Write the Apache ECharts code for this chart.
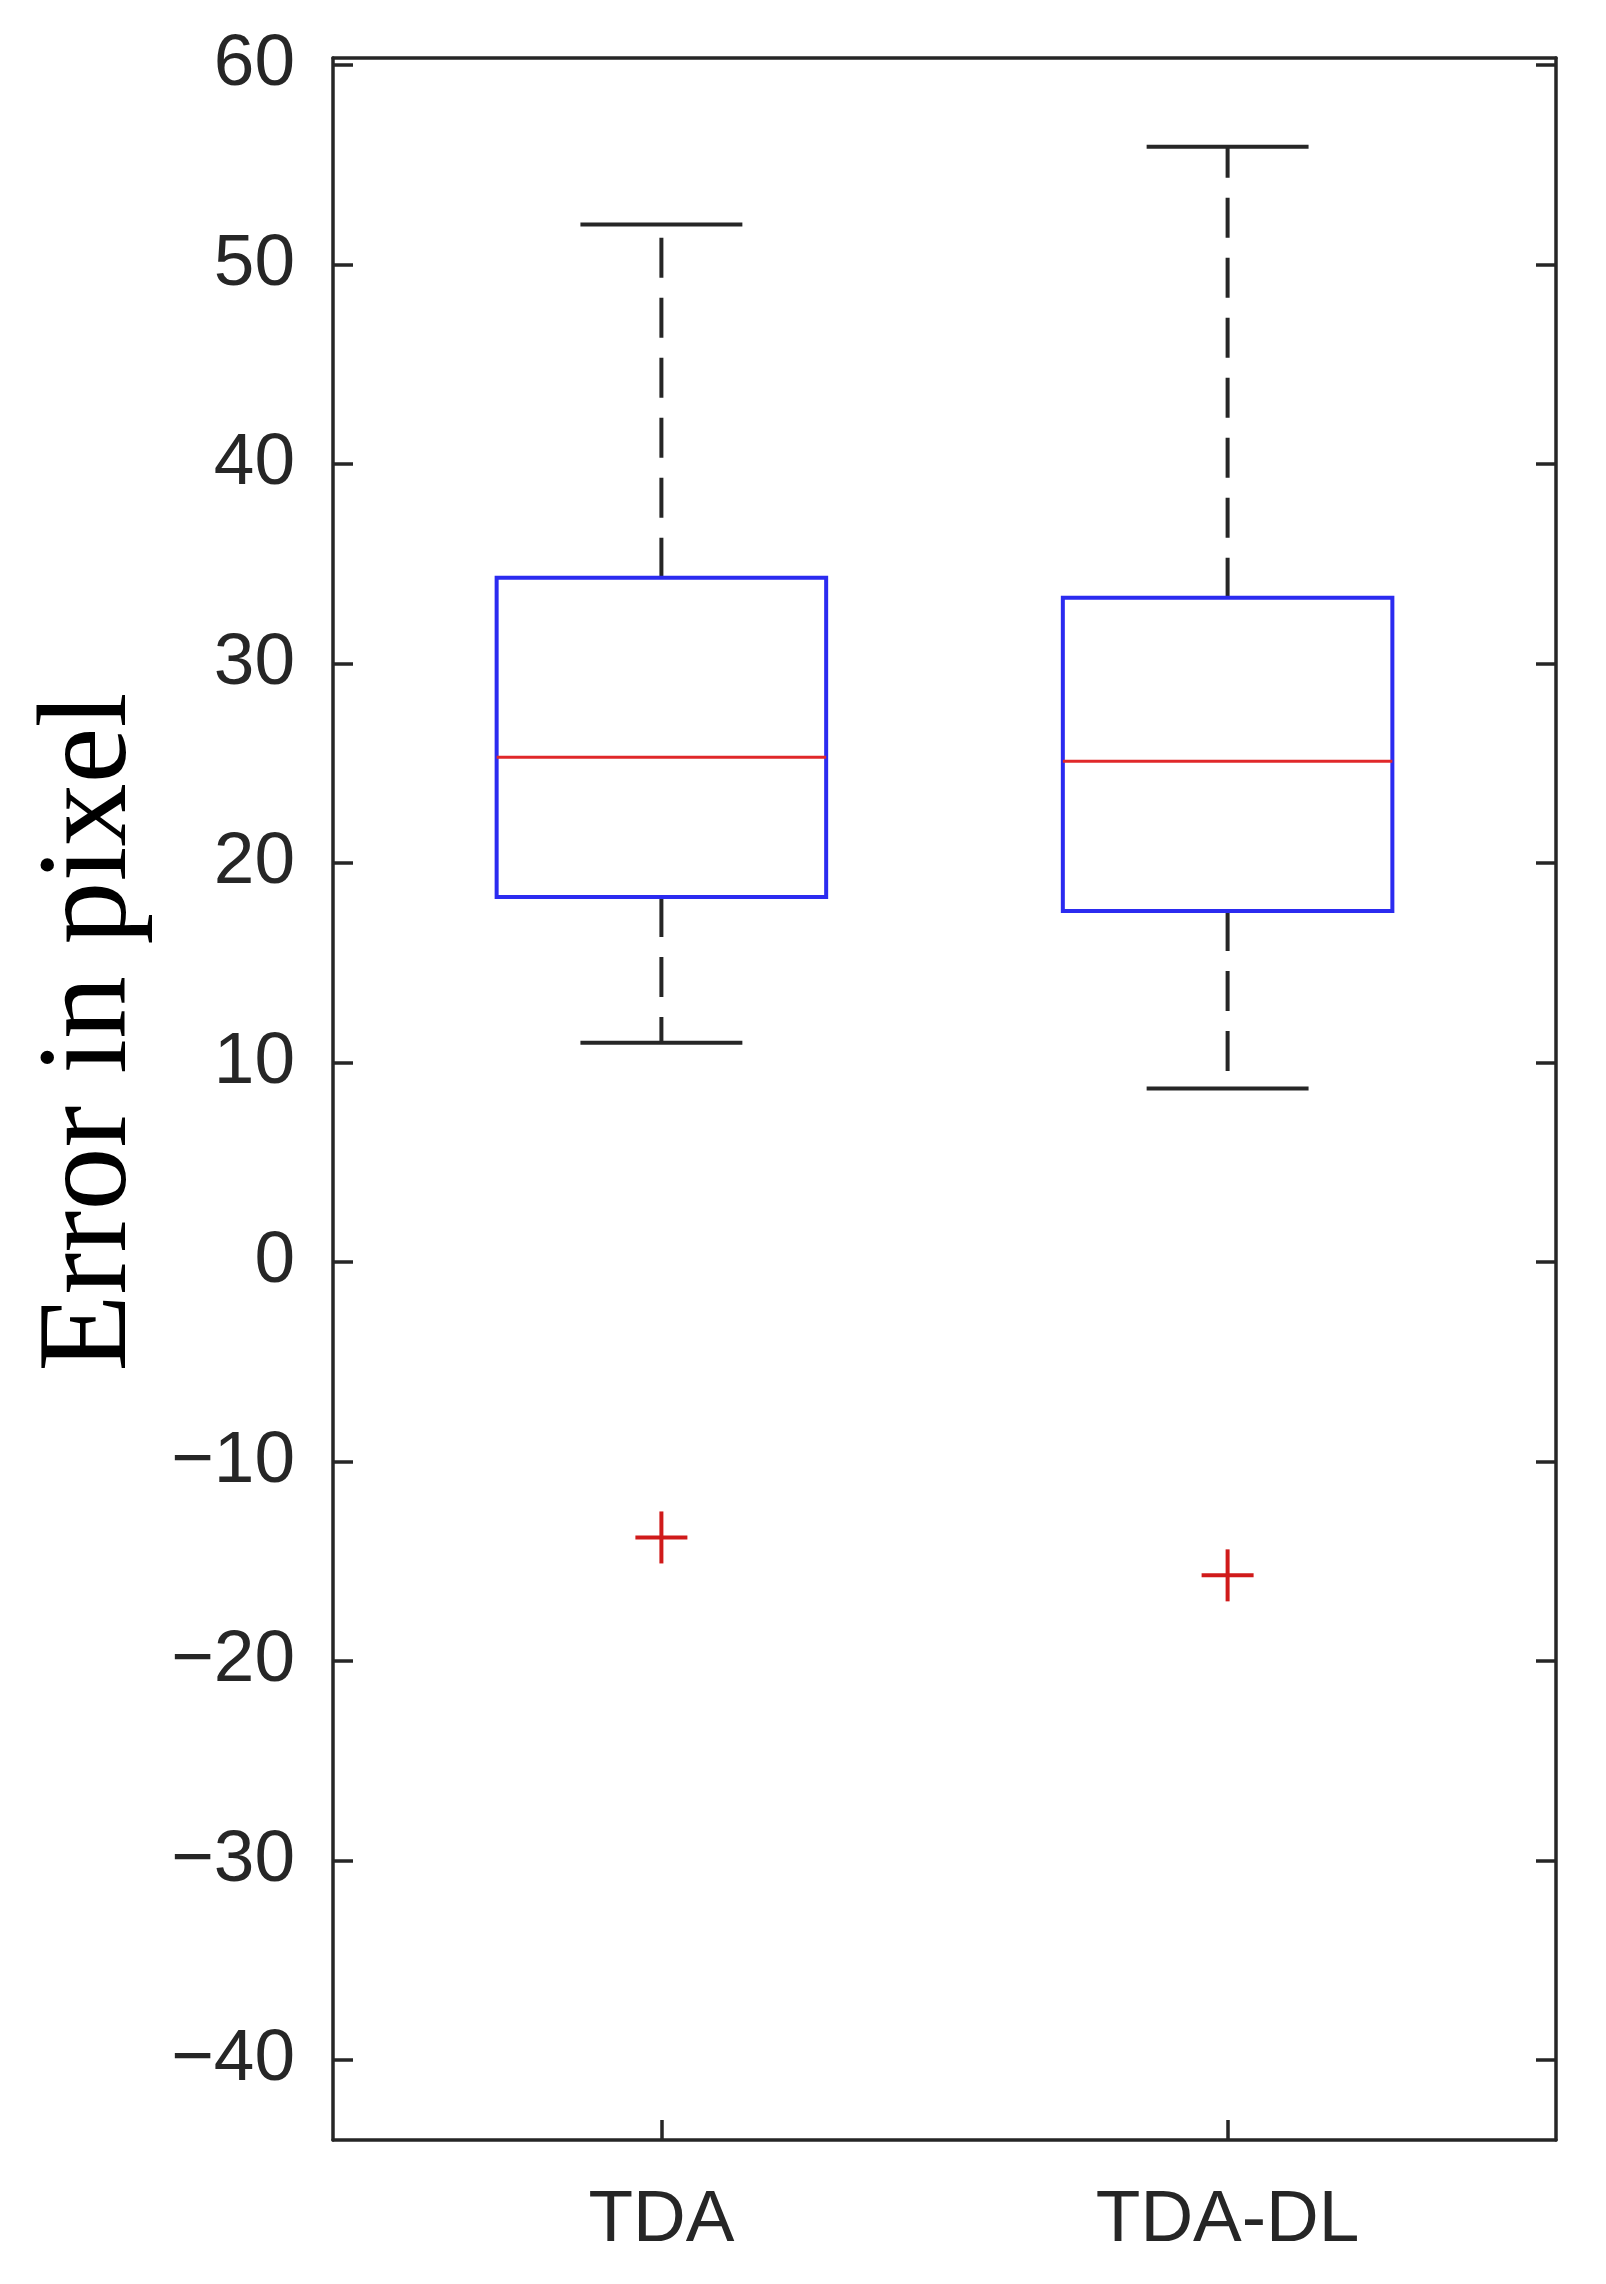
<!DOCTYPE html>
<html>
<head>
<meta charset="utf-8">
<script src="https://cdn.jsdelivr.net/npm/echarts@6/dist/echarts.min.js"></script>
<style>html,body{margin:0;background:#fff}#chart{width:1606px;height:2284px}</style>
</head>
<body>
<div id="chart"></div>
<script>
const categories = ['TDA', 'TDA-DL'];
const positions = [1, 2];
// [low whisker, Q1, median, Q3, high whisker]
const boxStats = [
  [11, 18.3, 25.3, 34.3, 52],
  [8.7, 17.6, 25.1, 33.3, 55.9]
];
const outliers = [[1, -13.8], [2, -15.7]];
const yTicks = [-40, -30, -20, -10, 0, 10, 20, 30, 40, 50, 60];

const chart = echarts.init(document.getElementById('chart'));

const boxHalf = 0.291; // half box width in x units
const capHalf = 0.143;

function renderBox(params, api) {
  const x = api.value(0);
  const lo = api.coord([x, api.value(1)]);
  const q1 = api.coord([x, api.value(2)]);
  const med = api.coord([x, api.value(3)]);
  const q3 = api.coord([x, api.value(4)]);
  const hi = api.coord([x, api.value(5)]);
  const xl = api.coord([x - boxHalf, 0])[0];
  const xr = api.coord([x + boxHalf, 0])[0];
  const cl = api.coord([x - capHalf, 0])[0];
  const cr = api.coord([x + capHalf, 0])[0];
  const cx = lo[0];
  const black = { stroke: '#262626', lineWidth: 4 };
  const dashed = { stroke: '#262626', lineWidth: 4, lineDash: [40, 20] };
  return {
    type: 'group',
    children: [
      { type: 'line', shape: { x1: cx, y1: q3[1], x2: cx, y2: hi[1] }, style: dashed },
      { type: 'line', shape: { x1: cx, y1: q1[1], x2: cx, y2: lo[1] }, style: dashed },
      { type: 'line', shape: { x1: cl, y1: hi[1], x2: cr, y2: hi[1] }, style: black },
      { type: 'line', shape: { x1: cl, y1: lo[1], x2: cr, y2: lo[1] }, style: black },
      { type: 'rect', shape: { x: xl, y: q3[1], width: xr - xl, height: q1[1] - q3[1] },
        style: { fill: null, stroke: '#2b2bf0', lineWidth: 4 } },
      { type: 'line', shape: { x1: xl, y1: med[1], x2: xr, y2: med[1] },
        style: { stroke: '#e0282a', lineWidth: 3 } }
    ]
  };
}

function renderPlus(params, api) {
  const p = api.coord([api.value(0), api.value(1)]);
  const s = 26;
  const st = { stroke: '#d01a1a', lineWidth: 4 };
  return {
    type: 'group',
    children: [
      { type: 'line', shape: { x1: p[0] - s, y1: p[1], x2: p[0] + s, y2: p[1] }, style: st },
      { type: 'line', shape: { x1: p[0], y1: p[1] - s, x2: p[0], y2: p[1] + s }, style: st }
    ]
  };
}

const labelStyle = { color: '#262626', fontFamily: 'Liberation Sans', fontSize: 73 };
const axisLine = { show: true, onZero: false, lineStyle: { color: '#262626', width: 3.5 } };
const tickLine = { color: '#262626', width: 3.5 };

chart.setOption({
  animation: false,
  grid: { left: 333, right: 50, top: 58, bottom: 144 },
  graphic: [{
    type: 'text', x: 92, y: 1032, rotation: Math.PI / 2,
    style: { text: 'Error in pixel', font: '126px "Liberation Serif"', fill: '#000',
      align: 'center', verticalAlign: 'middle' }
  }],
  xAxis: [
    {
      type: 'value', min: 0.42, max: 2.58, position: 'bottom',
      splitLine: { show: false },
      axisLine: axisLine,
      axisTick: { inside: true, length: 20, customValues: positions, lineStyle: tickLine },
      axisLabel: Object.assign({ margin: 44, customValues: positions,
        formatter: v => categories[positions.indexOf(v)] || '' }, labelStyle)
    },
    {
      type: 'value', min: 0.42, max: 2.58, position: 'top',
      splitLine: { show: false },
      axisLine: axisLine,
      axisTick: { show: false }, axisLabel: { show: false }
    }
  ],
  yAxis: [
    {
      type: 'value', min: -44, max: 60.35, position: 'left',
      splitLine: { show: false },
      axisLine: axisLine,
      axisTick: { inside: true, length: 20, customValues: yTicks, lineStyle: tickLine },
      axisLabel: Object.assign({ margin: 38, customValues: yTicks,
        formatter: v => (v < 0 ? '\u2212' + Math.abs(v) : String(v)) }, labelStyle)
    },
    {
      type: 'value', min: -44, max: 60.35, position: 'right',
      splitLine: { show: false },
      axisLine: axisLine,
      axisTick: { inside: true, length: 20, customValues: yTicks, lineStyle: tickLine },
      axisLabel: { show: false }
    }
  ],
  series: [
    {
      type: 'custom', renderItem: renderBox, clip: false,
      data: boxStats.map((s, i) => [positions[i]].concat(s))
    },
    {
      type: 'custom', renderItem: renderPlus,
      data: outliers
    }
  ]
});
</script>
</body>
</html>
